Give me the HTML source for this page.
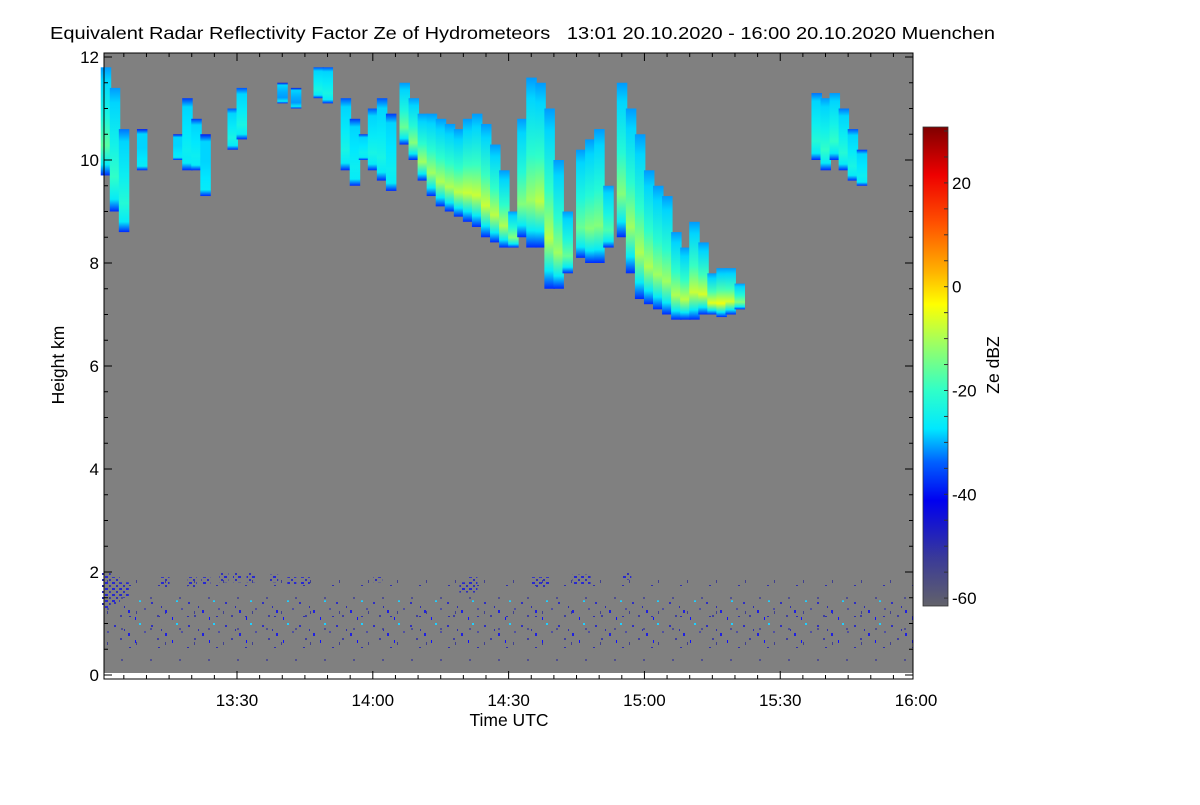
<!DOCTYPE html>
<html><head><meta charset="utf-8"><style>
body{margin:0;background:#fff;}
svg text{font-family:"Liberation Sans",sans-serif;fill:#000;}
</style></head><body>
<svg id="chart" width="1200" height="800" viewBox="0 0 1200 800" xmlns="http://www.w3.org/2000/svg">
<defs>
<linearGradient id="cbar" x1="0" y1="1" x2="0" y2="0">
<stop offset="0" stop-color="#62626a"/>
<stop offset="0.1" stop-color="#3a3a98"/>
<stop offset="0.22" stop-color="#0000f0"/>
<stop offset="0.3" stop-color="#0060ff"/>
<stop offset="0.37" stop-color="#00e8ff"/>
<stop offset="0.45" stop-color="#30ffc8"/>
<stop offset="0.55" stop-color="#a0ff60"/>
<stop offset="0.63" stop-color="#ffff00"/>
<stop offset="0.7" stop-color="#ffb000"/>
<stop offset="0.8" stop-color="#ff5000"/>
<stop offset="0.9" stop-color="#ee0000"/>
<stop offset="1" stop-color="#800000"/>
</linearGradient>
<pattern id="speck1" width="37" height="23" patternUnits="userSpaceOnUse">
<rect x="3" y="4" width="2" height="2" fill="#3030c0"/><rect x="17" y="12" width="2" height="3" fill="#2020e0"/>
<rect x="28" y="2" width="2" height="2" fill="#20d0ff"/><rect x="9" y="17" width="2" height="2" fill="#4040a0"/>
<rect x="24" y="19" width="1" height="3" fill="#1010ff"/><rect x="33" y="10" width="2" height="2" fill="#5050a0"/>
<rect x="13" y="8" width="1" height="2" fill="#3030b0"/>
</pattern>
<pattern id="speck2" width="29" height="31" patternUnits="userSpaceOnUse">
<rect x="5" y="8" width="2" height="2" fill="#505090"/><rect x="20" y="22" width="1" height="3" fill="#404090"/>
<rect x="13" y="27" width="2" height="1" fill="#3030b0"/>
</pattern>
<pattern id="speck3" width="7" height="6" patternUnits="userSpaceOnUse">
<rect x="0" y="0" width="3" height="2" fill="#2828d0"/><rect x="4" y="3" width="2" height="2" fill="#3030b8"/>
</pattern>
</defs>
<rect x="0" y="0" width="1200" height="800" fill="#fff"/>
<text x="50" y="39" font-size="17.5" textLength="945" lengthAdjust="spacingAndGlyphs" style="white-space:pre">Equivalent Radar Reflectivity Factor Ze of Hydrometeors   13:01 20.10.2020 - 16:00 20.10.2020 Muenchen</text>
<rect x="104" y="53" width="809" height="620" fill="#808080"/>
<g id="marks"></g>
<rect x="104" y="53" width="809" height="626" fill="none" stroke="#000" stroke-width="1"/>
<g id="axes"></g>
<rect x="923" y="127" width="25" height="479" fill="url(#cbar)" stroke="#333" stroke-width="0.8"/>
<g id="cbaxis"></g>
<text transform="translate(64,365) rotate(-90)" text-anchor="middle" font-size="17.5">Height km</text>
<text x="509" y="726" text-anchor="middle" font-size="17.5">Time UTC</text>
<text transform="translate(999,365) rotate(-90)" text-anchor="middle" font-size="17.5">Ze dBZ</text>
</svg>
<script>
// cloud columns: time (minutes after 13:00), top (km), base (km), peak dBZ
const colT    = [1,3,5,9,17,19,21,23,29,31,40,43,48,50,54,56,58,60,62,64,
  67,69,71,73,75,77,79,81,83,85,87,89,91,
  93,95,97,99,101,103,106,108,110,112,
  115,117,119,121,123,125,127,129,131,133,135,137,139,141,
  158,160,162,164,166,168];
const colTop  = [11.8,11.4,10.6,10.6,10.5,11.2,10.8,10.5,11.0,11.4,11.5,11.4,11.8,11.8,11.2,10.8,10.5,11.0,11.2,10.9,
  11.5,11.2,10.9,10.9,10.8,10.7,10.6,10.8,10.9,10.7,10.3,9.8,9.0,
  10.8,11.6,11.5,11.0,10.0,9.0,10.2,10.4,10.6,9.5,
  11.5,11.0,10.5,9.8,9.5,9.3,8.6,8.3,8.8,8.4,7.8,7.9,7.9,7.6,
  11.3,11.2,11.3,11.0,10.6,10.2];
const colBase = [9.7,9.0,8.6,9.8,10.0,9.8,9.8,9.3,10.2,10.4,11.1,11.0,11.2,11.1,9.8,9.5,10.0,9.8,9.6,9.4,
  10.3,10.0,9.6,9.3,9.1,9.0,8.9,8.8,8.7,8.5,8.4,8.3,8.3,
  8.5,8.3,8.3,7.5,7.5,7.8,8.1,8.0,8.0,8.3,
  8.5,7.8,7.3,7.2,7.1,7.0,6.9,6.9,6.9,7.0,7.0,6.95,7.0,7.1,
  10.0,9.8,10.0,9.8,9.6,9.5];
const colPeak = [-15,-18,-20,-26,-26,-24,-24,-26,-22,-22,-30,-30,-22,-22,-22,-24,-24,-22,-22,-24,
  -14,-12,-10,-10,-9,-9,-8,-7,-7,-7,-8,-9,-12,
  -12,-10,-8,-8,-10,-14,-14,-12,-12,-16,
  -12,-10,-9,-9,-10,-10,-9,-8,-7,-6,-5,-4,-6,-12,
  -20,-18,-18,-20,-22,-24];
// low-level blue patches: time, top, base
const lowT    = [1,3,5,14,20,23,27,30,33,38,42,45,61,80,82,96,98,105,107,116];
const lowTop  = [2.0,1.9,1.8,1.9,1.9,1.9,2.0,2.0,2.0,1.95,1.9,1.9,1.9,1.8,1.9,1.9,1.9,1.95,1.95,2.0];
const lowBase = [1.3,1.4,1.5,1.7,1.7,1.75,1.8,1.8,1.8,1.8,1.75,1.75,1.8,1.6,1.6,1.7,1.7,1.75,1.75,1.85];
const xTicks = [30,60,90,120,150,180];
const xTickLabels = ["13:30","14:00","14:30","15:00","15:30","16:00"];
const yTicks = [0,2,4,6,8,10,12];
const cbTicks = [20,0,-20,-40,-60];

const NS="http://www.w3.org/2000/svg";
const xS=t=>237+(t-30)*4.527;
const yS=h=>675-h*51.5;
const cS=d=>131+(30-d)*5.19;
function jet(d){
  const st=[[-60,[98,98,106]],[-50,[58,58,152]],[-40,[0,0,240]],[-33,[0,96,255]],[-26,[0,232,255]],[-18,[48,255,200]],[-10,[160,255,96]],[-3,[255,255,0]],[3,[255,176,0]],[12,[255,80,0]],[20,[238,0,0]],[30,[128,0,0]]];
  if(d<=st[0][0])return `rgb(${st[0][1]})`;
  for(let i=1;i<st.length;i++){if(d<=st[i][0]){const f=(d-st[i-1][0])/(st[i][0]-st[i-1][0]);const c=st[i-1][1].map((v,k)=>Math.round(v+(st[i][1][k]-v)*f));return `rgb(${c})`;}}
  return 'rgb(128,0,0)';
}
const svg=document.getElementById('chart'),defs=svg.querySelector('defs'),g=document.getElementById('marks');
function mk(tag,at,par){const e=document.createElementNS(NS,tag);for(const k in at)e.setAttribute(k,at[k]);(par||g).appendChild(e);return e;}
let bl=mk('rect',{x:104,y:yS(2.0),width:809,height:yS(0.15)-yS(2.0),fill:'url(#speck2)'});


let bl2=mk('rect',{x:104,y:yS(1.45),width:809,height:yS(0.6)-yS(1.45),fill:'url(#speck1)'});


lowT.forEach((t,i)=>{
  const r=mk('rect',{x:xS(t)-4,y:yS(lowTop[i]),width:9,height:yS(lowBase[i])-yS(lowTop[i]),fill:'url(#speck3)'});
  
  
});
colT.forEach((t,i)=>{
  const id='cg'+i;
  const lg=mk('linearGradient',{id:id,x1:0,y1:0,x2:0,y2:1},defs);
  const p=colPeak[i],edge=jet(Math.min(p-12,-30)),mid=jet((p-26)/2-1),pk=jet(p);
  [[0,edge],[0.12,jet(-27)],[0.45,mid],[0.72,pk],[0.9,jet(-25)],[1,'rgb(0,40,255)']].forEach(s=>mk('stop',{offset:s[0],'stop-color':s[1]},lg));
  const r=mk('rect',{x:xS(t)-5,y:yS(colTop[i]),width:10.5,height:yS(colBase[i])-yS(colTop[i]),fill:'url(#'+id+')'});
  
  
});
const ax=document.getElementById('axes');
for(let m=0;m<=180;m+=5){const x=xS(m);if(x<104||x>913)continue;const big=m%30===0;
  mk('line',{x1:x,y1:679,x2:x,y2:679-(big?8:4),stroke:'#000'},ax);mk('line',{x1:x,y1:53,x2:x,y2:53+(big?8:4),stroke:'#000'},ax);}
xTicks.forEach((t,i)=>{const e=mk('text',{x:xS(t),y:706,'text-anchor':'middle','font-size':17},ax);e.textContent=xTickLabels[i];
  
  });
for(let h=0;h<=12;h+=0.5){const y=yS(h),big=h%2===0;
  mk('line',{x1:104,y1:y,x2:104+(big?8:4),y2:y,stroke:'#000'},ax);mk('line',{x1:913,y1:y,x2:913-(big?8:4),y2:y,stroke:'#000'},ax);}
yTicks.forEach(h=>{const e=mk('text',{x:99,y:yS(h)+6,'text-anchor':'end','font-size':17},ax);e.textContent=h;
  
  });
const cb=document.getElementById('cbaxis');
for(let d=-60;d<=30;d+=5){mk('line',{x1:948,y1:cS(d),x2:944,y2:cS(d),stroke:'#333'},cb);}
cbTicks.forEach(d=>{const e=mk('text',{x:952,y:cS(d)+6,'font-size':17},cb);e.textContent=d;
  
  });
</script>
</body></html>
